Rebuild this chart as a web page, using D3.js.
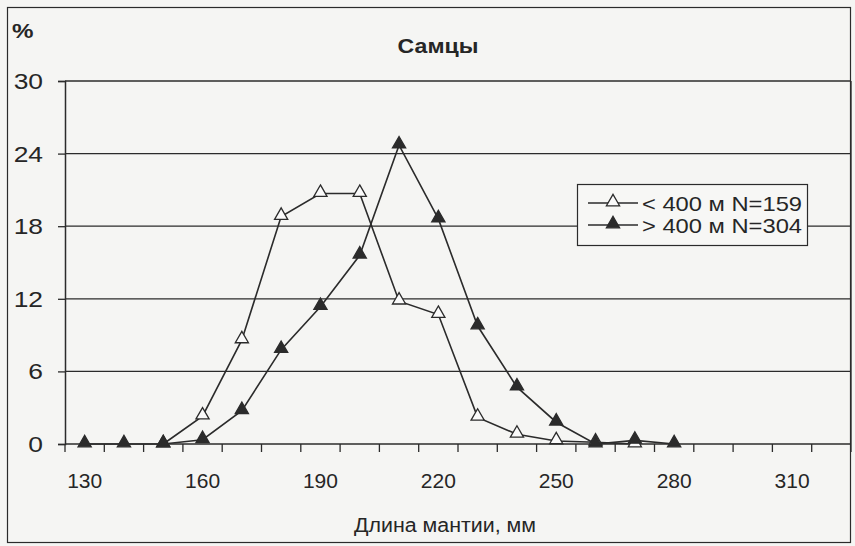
<!DOCTYPE html>
<html>
<head>
<meta charset="utf-8">
<script src="https://cdn.jsdelivr.net/npm/d3@7"></script>
<style>
  body { margin: 0; background: #f5f5f3; }
  text { font-family: "Liberation Sans", Arial, sans-serif; fill: #262626; }
</style>
</head>
<body>
<div id="chart"></div>
<script>
// category axis: mantle length, mm
const lengths = d3.range(130, 330, 10);
const tickLabels = [130, 160, 190, 220, 250, 280, 310];
const yTicks = [0, 6, 12, 18, 24, 30];

const shallowName = "< 400 м N=159";
const shallowLen = [150, 160, 170, 180, 190, 200, 210, 220, 230, 240, 250, 260, 270];
const shallowPct = [0, 2.3, 8.6, 18.8, 20.7, 20.7, 11.8, 10.7, 2.2, 0.8, 0.25, 0.15, 0];

const deepName = "> 400 м N=304";
const deepLen = [130, 140, 150, 160, 170, 180, 190, 200, 210, 220, 230, 240, 250, 260, 270, 280];
const deepPct = [0, 0, 0, 0.35, 2.75, 7.8, 11.35, 15.6, 24.7, 18.6, 9.75, 4.7, 1.8, 0, 0.3, 0];

const width = 855, height = 546;
const ink = "#2b2b2b";

const svg = d3.select("#chart").append("svg")
    .attr("width", width)
    .attr("height", height);

// scanned text looks a bit wider than normal Arial
function label(parent, x, y, txt, size, sx, anchor, bold) {
    return parent.append("text")
        .attr("transform", `translate(${x},${y}) scale(${sx},1)`)
        .attr("text-anchor", anchor || "start")
        .attr("font-size", size)
        .attr("font-weight", bold ? "bold" : "normal")
        .text(txt);
}

// outer frame
svg.append("rect")
    .attr("x", 7.5).attr("y", 7.5)
    .attr("width", 843).attr("height", 535)
    .attr("fill", "none")
    .attr("stroke", ink)
    .attr("stroke-width", 1.2);

const x = d3.scaleBand()
    .domain(lengths)
    .range([65, 851]);

const y = d3.scaleLinear()
    .domain([0, 30])
    .range([444, 81]);

const cx = v => x(v) + x.bandwidth() / 2;

// grid lines
svg.append("g")
    .selectAll("line")
    .data(yTicks.filter(d => d > 0))
    .enter().append("line")
    .attr("x1", 65).attr("x2", 851)
    .attr("y1", d => y(d)).attr("y2", d => y(d))
    .attr("stroke", ink)
    .attr("stroke-width", 1.3);

// plot border (right side)
svg.append("line")
    .attr("x1", 851).attr("x2", 851)
    .attr("y1", y(30)).attr("y2", y(0))
    .attr("stroke", ink).attr("stroke-width", 1.3);

// y axis
const yAxis = d3.axisLeft(y)
    .tickValues(yTicks)
    .tickSize(7)
    .tickFormat("");

const yg = svg.append("g")
    .attr("transform", "translate(65,0)")
    .call(yAxis);
yg.select(".domain").attr("stroke", ink).attr("stroke-width", 1.5);
yg.selectAll(".tick line").attr("stroke", ink).attr("stroke-width", 1.3);
yTicks.forEach(t => label(svg, 43, y(t) + 8, t, 22, 1.2, "end"));

// x axis: tick marks on category boundaries
const xg = svg.append("g")
    .attr("transform", `translate(0,${y(0)})`);
xg.append("line")
    .attr("x1", 65).attr("x2", 851)
    .attr("stroke", ink).attr("stroke-width", 1.5);
xg.selectAll(".tk")
    .data(lengths.concat([null]))
    .enter().append("line")
    .attr("class", "tk")
    .attr("x1", (d, i) => 65 + i * x.step())
    .attr("x2", (d, i) => 65 + i * x.step())
    .attr("y1", 0).attr("y2", 8)
    .attr("stroke", ink).attr("stroke-width", 1.3);
tickLabels.forEach(t => label(xg, cx(t), 44, t, 21, 1, "middle"));

// titles
label(svg, 438, 53, "Самцы", 21, 1.1, "middle", true);
label(svg, 12, 38, "%", 21, 1.15, "start", true);
label(svg, 445, 532, "Длина мантии, мм", 20, 1.07, "middle");

// series
const tri = d3.symbol().type(d3.symbolTriangle).size(75);
const line = d3.line()
    .x(d => cx(d[0]))
    .y(d => y(d[1]));

function drawSeries(lens, vals, filled) {
    const pts = lens.map((l, i) => [l, vals[i]]);
    svg.append("path")
        .datum(pts)
        .attr("d", line)
        .attr("fill", "none")
        .attr("stroke", ink)
        .attr("stroke-width", 1.6);
    svg.append("g")
        .selectAll("path")
        .data(pts)
        .enter().append("path")
        .attr("d", tri)
        .attr("transform", d => `translate(${cx(d[0])},${y(d[1]) - 1})`)
        .attr("fill", filled ? ink : "#fafafa")
        .attr("stroke", ink)
        .attr("stroke-width", 1.3);
}

drawSeries(shallowLen, shallowPct, false);
drawSeries(deepLen, deepPct, true);

// legend
const lg = svg.append("g").attr("transform", "translate(577,184)");
lg.append("rect")
    .attr("x", 0.5).attr("y", 0.5)
    .attr("width", 230).attr("height", 61)
    .attr("fill", "#f7f7f5")
    .attr("stroke", ink)
    .attr("stroke-width", 1.2);

[[shallowName, false], [deepName, true]].forEach(([name, filled], i) => {
    const ry = 19 + i * 22;
    lg.append("line")
        .attr("x1", 11).attr("x2", 61)
        .attr("y1", ry).attr("y2", ry)
        .attr("stroke", ink).attr("stroke-width", 1.6);
    lg.append("path")
        .attr("d", tri)
        .attr("transform", `translate(36,${ry - 1})`)
        .attr("fill", filled ? ink : "#fafafa")
        .attr("stroke", ink)
        .attr("stroke-width", 1.3);
    label(lg, 65, ry + 8, name, 21, 1.13, "start");
});
</script>
</body>
</html>
